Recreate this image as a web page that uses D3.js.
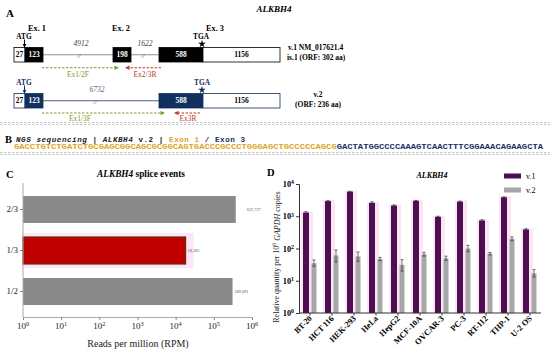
<!DOCTYPE html>
<html><head><meta charset="utf-8">
<script src="https://cdn.jsdelivr.net/npm/d3@7"></script>
<style>body{margin:0;background:#fff}svg{display:block}text{font-family:"Liberation Serif","DejaVu Serif",serif}</style>
</head><body><svg id="c" width="550" height="355"></svg>
<script>
// ---------- data ----------
const exonLabelsV1 = ["27","123","198","588","1156"];
const exonLabelsV2 = ["27","123","588","1156"];
const intronLabelsV1 = ["4912","1622"];
const intronLabelsV2 = ["6732"];
const seqExon1 = "GACCTGTCTGATCTGCGAGCGGCAGCGCGGCAGTGACCCGCCCTGGGAGCTGCCCCCAGCG";
const seqExon3 = "GACTATGGCCCCAAAGTCAACTTTCGGAAACAGAAGCTA";

const spliceEvents = ["2/3","1/3","1/2"];
const spliceRPM = [375000, 18182, 309091];
const spliceLabels = ["622,727","18,182","309,091"];

const cellLines = ["BT-20","HCT 116","HEK-293","HeLa","HepG2","MCF-10A","OVCAR-3","PC-3","RT-112","THP-1","U-2 OS"];
const v1Values = [1300, 2950, 5800, 2600, 2150, 3000, 960, 2850, 740, 3880, 390];
const v1Upper  = [1380, 3050, 5950, 2800, 2250, 3100, 1000, 2950, 780, 3980, 410];
const v2Values = [35, 61, 57, 47, 31, 67, 50, 100, 69, 200, 17];
const v2Upper  = [44, 90, 78, 53, 45, 76, 58, 125, 75, 230, 22];
const v2Lower  = [28, 38, 40, 42, 20, 58, 43, 80, 63, 175, 13];

const cTicks = [0,1,2,3,4,5,6];
const dTicks = [0,1,2,3,4];

// ---------- drawing ----------
const svg = d3.select("#c");
const NAVY = "#12305e";
const GREEN = "#7f9a2e";
const RED = "#c0392b";
const MONO = "'Liberation Mono','DejaVu Sans Mono',monospace";

const defs = svg.append("defs");
function marker(id, color){
  defs.append("marker").attr("id",id).attr("viewBox","0 0 10 10").attr("refX",8).attr("refY",5)
    .attr("markerWidth",4).attr("markerHeight",4).attr("orient","auto-start-reverse")
    .append("path").attr("d","M0,0 L10,5 L0,10 z").attr("fill",color);
}
marker("mg", GREEN); marker("mr", RED); marker("mk", "#000"); marker("mn", NAVY);

function txt(x,y,s,o={}){
  const t = svg.append("text").attr("x",x).attr("y",y).text(s)
    .attr("font-size",o.size||7).attr("fill",o.fill||"#000")
    .attr("font-weight",o.weight||"bold").attr("text-anchor",o.anchor||"start");
  if(o.italic) t.attr("font-style","italic");
  if(o.family) t.style("font-family",o.family);
  return t;
}
function pow10(sel, e){
  sel.text(null);
  sel.append("tspan").text("10");
  sel.append("tspan").attr("dy","-0.45em").attr("font-size","0.7em").text(e);
}

// ---------- Panel A ----------
txt(6,17,"A",{size:11});
txt(274,12,"ALKBH4",{size:9,italic:true,anchor:"middle"});

function transcript(y0, h, segs, color, lineColor, border, line){
  svg.append("line").attr("x1",line[0]).attr("x2",line[1]).attr("y1",y0+h/2).attr("y2",y0+h/2)
    .attr("stroke",lineColor).attr("stroke-width",1);
  segs.forEach(s=>{
    svg.append("rect").attr("x",s.x0).attr("y",y0).attr("width",s.x1-s.x0).attr("height",h)
      .attr("fill",s.fill?color:"#fff").attr("stroke",border).attr("stroke-width",0.8);
    txt((s.x0+s.x1)/2, y0+h/2+2.7, s.label,{size:7.5,fill:s.fill?"#fff":"#000",anchor:"middle"});
  });
}
const v1Bounds = [[14,25,false],[25,43,true],[113,131,true],[159,203,true],[203,280,false]];
transcript(47.5,14.5, v1Bounds.map((b,i)=>({x0:b[0],x1:b[1],fill:b[2],label:exonLabelsV1[i]})),
  "#000","#8f8f8f","#000",[43,280]);
const v2Bounds = [[14,25,false],[25,43,true],[159,203,true],[203,280,false]];
transcript(93.5,14.5, v2Bounds.map((b,i)=>({x0:b[0],x1:b[1],fill:b[2],label:exonLabelsV2[i]})),
  NAVY,"#4d5f8a",NAVY,[43,280]);

// intron labels and breaks
txt(81,46,intronLabelsV1[0],{size:7.5,italic:true,weight:"normal",fill:"#444",anchor:"middle"});
txt(79,57.5,"//",{size:6.5,italic:true,weight:"normal",fill:"#555",anchor:"middle"});
txt(145,46,intronLabelsV1[1],{size:7.5,italic:true,weight:"normal",fill:"#444",anchor:"middle"});
txt(143,57.5,"//",{size:6.5,italic:true,weight:"normal",fill:"#555",anchor:"middle"});
txt(97,92,intronLabelsV2[0],{size:7.5,italic:true,weight:"normal",fill:"#4d5f8a",anchor:"middle"});
txt(95,103.5,"//",{size:6.5,italic:true,weight:"normal",fill:"#4d5f8a",anchor:"middle"});

// exon headers
txt(37,31,"Ex. 1",{size:8.3,anchor:"middle"});
txt(121,31,"Ex. 2",{size:8.3,anchor:"middle"});
txt(215,31,"Ex. 3",{size:8.3,anchor:"middle"});

// ATG / TGA
txt(24,38.5,"ATG",{size:7.3,anchor:"middle"});
svg.append("line").attr("x1",24.5).attr("x2",24.5).attr("y1",39.5).attr("y2",47).attr("stroke","#000").attr("stroke-width",1).attr("marker-end","url(#mk)");
txt(201,38.5,"TGA",{size:7.3,anchor:"middle"});
svg.append("path").attr("d",d3.symbol(d3.symbolStar,18)()).attr("transform","translate(202,44)").attr("fill","#000");
txt(24,84.5,"ATG",{size:7.3,anchor:"middle",fill:NAVY});
svg.append("line").attr("x1",24.5).attr("x2",24.5).attr("y1",85.5).attr("y2",93).attr("stroke",NAVY).attr("stroke-width",1).attr("marker-end","url(#mn)");
txt(202,84.5,"TGA",{size:7.3,anchor:"middle",fill:NAVY});
svg.append("path").attr("d",d3.symbol(d3.symbolStar,18)()).attr("transform","translate(202,90)").attr("fill",NAVY);

// transcript descriptions
txt(288,50,"v.1  NM_017621.4",{size:7.5});
txt(287,60,"is.1 (ORF: 302 aa)",{size:7.5});
txt(318,97,"v.2",{size:7.5,anchor:"middle"});
txt(318,107,"(ORF: 236 aa)",{size:7.5,anchor:"middle"});

// primers
function primer(x1,x2,y,color,mk,label,lx,ly){
  svg.append("line").attr("x1",x1).attr("x2",x2).attr("y1",y).attr("y2",y)
    .attr("stroke",color).attr("stroke-width",1.1).attr("stroke-dasharray","2.5,1.5").attr("marker-end",`url(#${mk})`);
  txt(lx,ly,label,{size:7.5,weight:"normal",fill:color,anchor:"middle"});
}
primer(42,118,67.7,GREEN,"mg","Ex1/2F",78,76.5);
primer(161,126,67.7,RED,"mr","Ex2/3R",145,76.5);
primer(42,164,113,GREEN,"mg","Ex1/3F",80,121);
primer(200,175,113,RED,"mr","Ex3R",188,121);

// ---------- Panel B ----------
function dashedDouble(y){
  [y, y+2].forEach(yy=>svg.append("line").attr("x1",0).attr("x2",550).attr("y1",yy).attr("y2",yy)
    .attr("stroke","#b8b8b8").attr("stroke-width",0.8).attr("stroke-dasharray","2.5,1.5"));
}
dashedDouble(122.5); dashedDouble(152.5);
txt(5,143,"B",{size:10.5});
const hdr = svg.append("text").attr("x",16).attr("y",141.5).attr("font-size",7.6).attr("font-weight","bold")
  .style("font-family",MONO).attr("fill","#222").attr("textLength",229).attr("lengthAdjust","spacing");
hdr.append("tspan").attr("font-style","italic").text("NGS sequencing");
hdr.append("tspan").text(" | ");
hdr.append("tspan").attr("font-style","italic").text("ALKBH4");
hdr.append("tspan").text(" v.2 | ");
hdr.append("tspan").attr("fill","#e0a030").text("Exon 1");
hdr.append("tspan").text(" / ");
hdr.append("tspan").attr("fill",NAVY).text("Exon 3");
const charW = (543-14)/(seqExon1.length+seqExon3.length);
svg.append("text").attr("x",14).attr("y",149.3).attr("font-size",7).attr("font-weight","bold")
  .style("font-family",MONO).attr("fill","#dba526")
  .attr("textLength",charW*seqExon1.length).attr("lengthAdjust","spacingAndGlyphs").text(seqExon1);
svg.append("text").attr("x",14+charW*seqExon1.length).attr("y",149.3).attr("font-size",7).attr("font-weight","bold")
  .style("font-family",MONO).attr("fill","#1d2f66")
  .attr("textLength",charW*seqExon3.length).attr("lengthAdjust","spacingAndGlyphs").text(seqExon3);

// ---------- Panel C ----------
txt(6,177.5,"C",{size:10.5});
const ct = svg.append("text").attr("x",141).attr("y",176.5).attr("font-size",9.3).attr("font-weight","bold").attr("text-anchor","middle");
ct.append("tspan").attr("font-style","italic").text("ALKBH4");
ct.append("tspan").text(" splice events");

const cx = d3.scaleLog().domain([1,1e6]).range([23,252]);
const cy = d3.scaleBand().domain(spliceEvents).range([189,312]);
const cg = svg.append("g");
cg.append("rect").attr("x",cx(1)).attr("y",cy("1/3")+3).attr("width",cx(spliceRPM[1])-cx(1)+8).attr("height",cy.bandwidth()-6)
  .attr("fill","#fde6f6");
cg.selectAll("rect.bar").data(spliceEvents).join("rect").attr("class","bar")
  .attr("x",cx(1)).attr("y",d=>cy(d)+7).attr("height",27)
  .attr("width",(d,i)=>cx(spliceRPM[i])-cx(1))
  .attr("fill",d=>d==="1/3"?"#c00000":"#8a8a8a")
  .attr("stroke",d=>d==="1/3"?"#5c3210":"none").attr("stroke-width",1.2);
cg.selectAll("text.val").data(spliceEvents).join("text").attr("class","val")
  .attr("x",(d,i)=>cx(spliceRPM[i])+(i===0?11:2)).attr("y",d=>cy(d)+22).attr("font-size",4.3)
  .attr("fill","#555").text((d,i)=>spliceLabels[i]);
const cax = cg.append("g").attr("transform","translate(0,317)")
  .call(d3.axisBottom(cx).tickValues(cTicks.map(e=>Math.pow(10,e))).tickSize(3).tickFormat(""));
cax.select(".domain").attr("stroke","#aaa");
cax.selectAll(".tick line").attr("stroke","#888");
cTicks.forEach(e=>{
  const t = svg.append("text").attr("x",cx(Math.pow(10,e))).attr("y",328.5).attr("font-size",9).attr("text-anchor","middle").attr("fill","#222");
  pow10(t,String(e));
});
const cay = cg.append("g").attr("transform","translate(23,0)")
  .call(d3.axisLeft(cy).tickSize(3).tickPadding(2));
cay.select(".domain").attr("stroke","#aaa").attr("d","M0,183V317");
cay.selectAll(".tick line").attr("stroke","#888");
cay.selectAll(".tick text").attr("font-size",9).attr("fill","#222").style("font-family","'Liberation Serif',serif");
txt(138,346.5,"Reads per million (RPM)",{size:10,weight:"normal",anchor:"middle",fill:"#222"});

// ---------- Panel D ----------
txt(267,176,"D",{size:10.5});
txt(432,178,"ALKBH4",{size:8,italic:true,anchor:"middle"});
const PURPLE = "#4d0f4f", GREY = "#a7a7a7";
svg.append("rect").attr("x",504).attr("y",173.5).attr("width",17).attr("height",5).attr("fill",PURPLE);
txt(526,179,"v.1",{size:8,weight:"normal"});
svg.append("rect").attr("x",504).attr("y",187.5).attr("width",17).attr("height",5).attr("fill",GREY);
txt(526,193,"v.2",{size:8,weight:"normal"});

const dx = d3.scaleBand().domain(cellLines).range([299,541]);
const dy = d3.scaleLog().domain([1,1e4]).range([313,184]);
const dg = svg.append("g");
dg.selectAll("rect.halo").data(cellLines).join("rect").attr("class","halo")
  .attr("x",d=>dx(d)+2).attr("width",12).attr("y",(d,i)=>dy(v1Values[i])-1).attr("height",(d,i)=>313-dy(v1Values[i])+1)
  .attr("fill","#fbe4f4");
dg.selectAll("rect.v1").data(cellLines).join("rect").attr("class","v1")
  .attr("x",d=>dx(d)+4).attr("width",6).attr("y",(d,i)=>dy(v1Values[i])).attr("height",(d,i)=>313-dy(v1Values[i]))
  .attr("fill",PURPLE);
dg.selectAll("rect.v2").data(cellLines).join("rect").attr("class","v2")
  .attr("x",d=>dx(d)+12.5).attr("width",5).attr("y",(d,i)=>dy(v2Values[i])).attr("height",(d,i)=>313-dy(v2Values[i]))
  .attr("fill",GREY);
cellLines.forEach((d,i)=>{
  const c1 = dx(d)+7, c2 = dx(d)+15;
  dg.append("line").attr("x1",c1).attr("x2",c1).attr("y1",dy(v1Values[i])).attr("y2",dy(v1Upper[i])).attr("stroke","#222").attr("stroke-width",0.7);
  dg.append("line").attr("x1",c1-1.5).attr("x2",c1+1.5).attr("y1",dy(v1Upper[i])).attr("y2",dy(v1Upper[i])).attr("stroke","#222").attr("stroke-width",0.7);
  dg.append("line").attr("x1",c2).attr("x2",c2).attr("y1",dy(v2Lower[i])).attr("y2",dy(v2Upper[i])).attr("stroke","#333").attr("stroke-width",0.7);
  [v2Lower[i],v2Upper[i]].forEach(v=>dg.append("line").attr("x1",c2-1.5).attr("x2",c2+1.5).attr("y1",dy(v)).attr("y2",dy(v)).attr("stroke","#333").attr("stroke-width",0.7));
});
const dax = dg.append("g").attr("transform","translate(0,313)")
  .call(d3.axisBottom(dx).tickSize(2.5).tickFormat(""));
dax.select(".domain").attr("stroke","#333").attr("d","M299,0H541");
dax.selectAll(".tick line").attr("stroke","#333");
cellLines.forEach(d=>{
  svg.append("text").attr("transform",`translate(${dx(d)+dx.bandwidth()/2+2.5},${319}) rotate(-45)`)
    .attr("text-anchor","end").attr("font-size",8.3).attr("font-weight","bold").text(d);
});
const day = dg.append("g").attr("transform","translate(299,0)")
  .call(d3.axisLeft(dy).tickValues(dTicks.map(e=>Math.pow(10,e))).tickSize(3).tickFormat(""));
day.select(".domain").attr("stroke","#333");
day.selectAll(".tick line").attr("stroke","#333");
dTicks.forEach(e=>{
  const t = svg.append("text").attr("x",294).attr("y",dy(Math.pow(10,e))+3).attr("font-size",8.3).attr("font-weight","bold").attr("text-anchor","end");
  pow10(t,String(e));
});
const yl = svg.append("text").attr("transform","translate(278.5,257) rotate(-90)").attr("text-anchor","middle").attr("font-size",8).attr("fill","#222");
yl.append("tspan").text("Relative quantity per 10");
yl.append("tspan").attr("dy","-0.45em").attr("font-size","0.7em").text("6");
yl.append("tspan").attr("dy","0.45em").attr("font-style","italic").text(" GAPDH");
yl.append("tspan").text(" copies");
</script></body></html>
